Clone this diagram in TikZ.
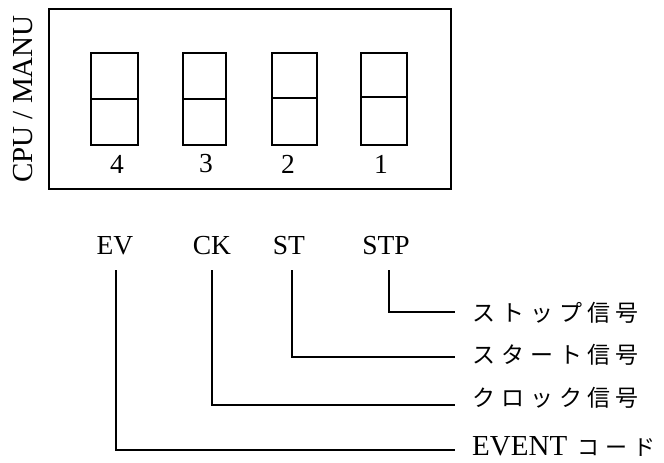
\documentclass[tikz,border=0pt]{standalone}
\usepackage{fontspec}
\setmainfont{Liberation Serif}
\newfontfamily\jpfont{Noto Sans CJK JP}
\begin{document}
\begin{tikzpicture}[x=1pt,y=-1pt,
  frame/.style={draw,line width=1.4pt},
  lat/.style={font=\fontsize{27.5}{30}\selectfont,inner sep=0pt},
  jp/.style={font=\jpfont\fontsize{23}{28}\selectfont,inner sep=0pt,anchor=west},
  wire/.style={line width=1.3pt}]
\useasboundingbox (0,0) rectangle (664,463);
% outer frame
\draw[frame] (49,9) rectangle (451,189);
\node[rotate=90,font=\fontsize{29}{32}\selectfont,inner sep=0pt] (cpu) at (23,99) {CPU / MANU};
% digit boxes
\foreach \n/\xa/\xb/\dv/\nx in {4/91/138/99/117, 3/183/226/99/206, 2/272/317/98/288, 1/361/407/97/381}{
  \draw[line width=1.4pt] (\xa,53) rectangle (\xb,145);
  \draw[line width=1.4pt] (\xa,\dv) -- (\xb,\dv);
  \node[lat] (num\n) at (\nx,164) {\n};
}
% signal names
\node[lat] (ev) at (115,246) {EV};
\node[lat] (ck) at (212,246) {CK};
\node[lat] (st) at (289,246) {ST};
\node[lat] (stp) at (386,246) {STP};
% descriptions
\node[jp] (dstp) at (472,313) {ス\hspace{6pt}ト\hspace{6pt}ッ\hspace{6pt}プ\hspace{5pt}信\hspace{5pt}号};
\node[jp] (dst) at (472,355) {ス\hspace{6pt}タ\hspace{6pt}ー\hspace{6pt}ト\hspace{5pt}信\hspace{5pt}号};
\node[jp] (dck) at (472,398) {ク\hspace{6pt}ロ\hspace{6pt}ッ\hspace{6pt}ク\hspace{5pt}信\hspace{5pt}号};
\node[jp,font=\fontsize{29}{32}\selectfont] (dev) at (472,446) {EVENT\hspace{10pt}{\jpfont\fontsize{22}{26}\selectfont コ\hspace{6pt}ー\hspace{6pt}ド}};
% wires
\coordinate (stpA) at (389,270); \coordinate (stpB) at (455,312);
\coordinate (stA) at (292,270);  \coordinate (stB) at (455,357);
\coordinate (ckA) at (212,270);  \coordinate (ckB) at (455,405);
\coordinate (evA) at (116,270);  \coordinate (evB) at (455,450);
\draw[wire] (stpA) |- (stpB);
\draw[wire] (stA) |- (stB);
\draw[wire] (ckA) |- (ckB);
\draw[wire] (evA) |- (evB);
\end{tikzpicture}
\end{document}
